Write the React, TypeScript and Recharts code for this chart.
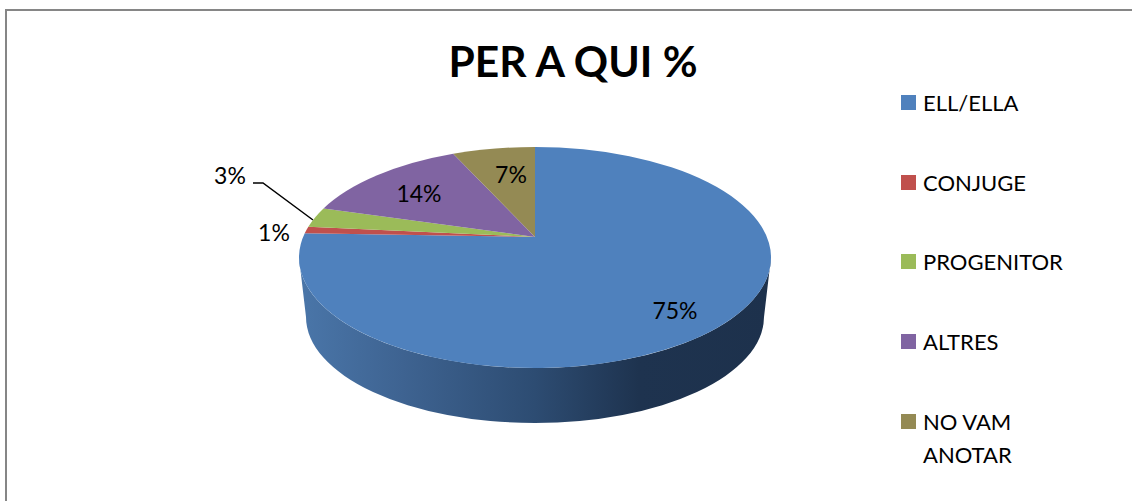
import { Legend, Pie, PieChart } from "recharts";

const categories = ["ELL/ELLA", "CONJUGE", "PROGENITOR", "ALTRES", "NO VAM ANOTAR"];
const shares = [75, 1, 3, 14, 7];
const sliceColors = ["#4f81bd", "#c0504d", "#9bbb59", "#8064a2", "#948a54"];

const tableData = categories.map((name, i) => ({ name, value: shares[i], fill: sliceColors[i] }));

const FONT = "Lato, sans-serif";
const APEX_X = 535;
const APEX_Y = 237;
// perspective ellipses of the top face and of the bottom rim
const TOP = { cy: 257.5, rx: 236, ry: 110.5 };
const BOTTOM = { cy: 317, rx: 229, ry: 106 };
const FORESHORTEN = 0.8;

// label spots in page pixels, one per slice
const labelSpots = [
  [675, 319],
  [274, 241],
  [230, 184],
  [419, 202],
  [511, 183],
];

// data angle (recharts degrees) -> angle round the ellipse, clockwise from the top
const rimAngle = (deg: number) => {
  const theta = ((90 - deg) * Math.PI) / 180;
  return 2 * Math.atan2(FORESHORTEN * Math.sin(theta / 2), Math.cos(theta / 2));
};

const rimPoint = (t: number, e: { cy: number; rx: number; ry: number }) =>
  `${APEX_X + e.rx * Math.sin(t)} ${e.cy - e.ry * Math.cos(t)}`;

const TopSlice = (props: any) => {
  const t1 = rimAngle(props.startAngle);
  const t2 = rimAngle(props.endAngle);
  const large = t2 - t1 > Math.PI ? 1 : 0;
  const d = `M ${props.cx} ${props.cy} L ${rimPoint(t1, TOP)} A ${TOP.rx} ${TOP.ry} 0 ${large} 1 ${rimPoint(t2, TOP)} Z`;
  return <path d={d} fill={props.fill} stroke="none" />;
};

const WallSlice = (props: any) => {
  const t1 = Math.max(rimAngle(props.startAngle), Math.PI / 2);
  const t2 = Math.min(rimAngle(props.endAngle), (3 * Math.PI) / 2);
  if (t2 <= t1) return <g />;
  const d =
    `M ${rimPoint(t1, TOP)} L ${rimPoint(t1, BOTTOM)} ` +
    `A ${BOTTOM.rx} ${BOTTOM.ry} 0 0 1 ${rimPoint(t2, BOTTOM)} ` +
    `L ${rimPoint(t2, TOP)} A ${TOP.rx} ${TOP.ry} 0 0 0 ${rimPoint(t1, TOP)} Z`;
  return <path d={d} fill="url(#wallShade)" stroke="none" />;
};

const SliceLabel = (props: any) => {
  const [x, y] = labelSpots[props.index];
  return (
    <text x={x} y={y} textAnchor="middle" fontFamily={FONT} fontSize={23} fill="#000">
      {`${props.value}%`}
    </text>
  );
};

const LegendList = ({ payload }: any) => {
  const items = (payload || []).filter((item: any) => item.type !== "none");
  const order = categories.map((name) => items.find((item: any) => item.value === name)).filter(Boolean);
  return (
    <div style={{ fontFamily: FONT, fontSize: 22, lineHeight: "33px", color: "#000" }}>
      {order.map((item: any) => (
        <div key={item.value} style={{ height: 79.7, display: "flex" }}>
          <div style={{ width: 15, height: 15, marginTop: 9, marginRight: 7, background: item.color, flex: "none" }} />
          <div style={{ width: 120 }}>{item.value}</div>
        </div>
      ))}
    </div>
  );
};

export default function App() {
  return (
    <div style={{ position: "absolute", left: 0, top: 0, width: 1132, height: 501, background: "#fff", overflow: "hidden" }}>
      <div style={{ position: "absolute", left: 5, top: 9, right: -4, bottom: -4, borderLeft: "2px solid #868686", borderTop: "2px solid #868686" }} />
      <PieChart width={1132} height={501} margin={{ top: 0, right: 0, bottom: 0, left: 0 }} style={{ position: "absolute", left: 0, top: 0 }}>
        <defs>
          <linearGradient id="wallShade" gradientUnits="userSpaceOnUse" x1={299} x2={771} y1={0} y2={0}>
            <stop offset="0" stopColor="#4a76a9" />
            <stop offset="0.22" stopColor="#3e6391" />
            <stop offset="0.5" stopColor="#2d4c72" />
            <stop offset="0.72" stopColor="#1e334f" />
            <stop offset="1" stopColor="#1d314c" />
          </linearGradient>
        </defs>
        <text x={573} y={77} textAnchor="middle" fontFamily={FONT} fontWeight={700} fontSize={42.5} fill="#000">
          PER A QUI %
        </text>
        <Pie
          data={tableData}
          dataKey="value"
          nameKey="name"
          cx={APEX_X}
          cy={APEX_Y}
          outerRadius={236}
          startAngle={90}
          endAngle={-270}
          legendType="none"
          shape={WallSlice}
          label={false}
          isAnimationActive={false}
        />
        <Pie
          data={tableData}
          dataKey="value"
          nameKey="name"
          cx={APEX_X}
          cy={APEX_Y}
          outerRadius={236}
          startAngle={90}
          endAngle={-270}
          legendType="square"
          shape={TopSlice}
          label={SliceLabel}
          labelLine={false}
          isAnimationActive={false}
        />
        <polyline points="253,183 263,183 313,220" fill="none" stroke="#000" strokeWidth={1.5} />
        <Legend
          content={LegendList}
          layout="vertical"
          align="right"
          verticalAlign="top"
          itemSorter={null}
          wrapperStyle={{ position: "absolute", left: 901, top: 86, width: 200 }}
        />
      </PieChart>
    </div>
  );
}
